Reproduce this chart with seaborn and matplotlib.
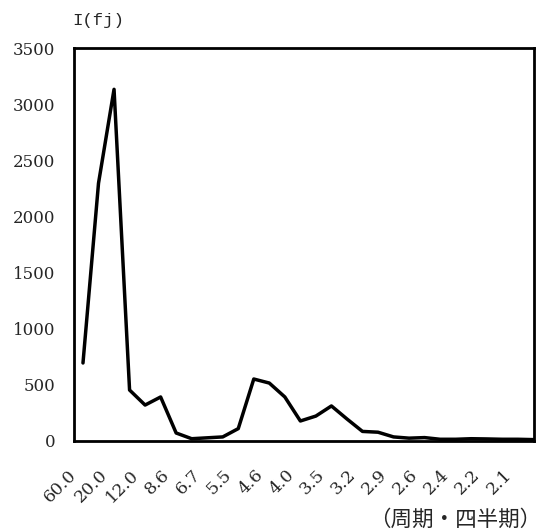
import matplotlib
matplotlib.use("Agg")
import matplotlib.pyplot as plt
import matplotlib.transforms as mtransforms
import seaborn as sns
import pandas as pd

periods = ["60.0", "30.0", "20.0", "15.0", "12.0", "10.0", "8.6", "7.5", "6.7", "6.0",
           "5.5", "5.0", "4.6", "4.3", "4.0", "3.8", "3.5", "3.3", "3.2", "3.0",
           "2.9", "2.7", "2.6", "2.5", "2.4", "2.3", "2.2", "2.1", "2.1", "2.0"]
intensity = [695, 2297, 3134, 454, 320, 392, 71, 20, 28, 36,
             110, 552, 516, 392, 178, 222, 312, 196, 85, 78,
             36, 25, 30, 15, 15, 20, 18, 15, 15, 12]
yticks = [0, 500, 1000, 1500, 2000, 2500, 3000, 3500]

sns.set_style("white")
plt.rcParams['font.family'] = ['DejaVu Serif', 'Noto Sans CJK JP']

df = pd.DataFrame({"pos": list(range(len(periods))), "I": intensity})

fig = plt.figure(figsize=(5.4, 5.3), dpi=100)
ax = fig.add_axes([0.137, 0.168, 0.852, 0.741])
sns.lineplot(data=df, x="pos", y="I", ax=ax, color="black", linewidth=2.5)

ax.set_xlim(-0.58, 29.05)
ax.set_ylim(0, 3500)
ax.set_yticks(yticks)
ax.set_yticklabels([str(v) for v in yticks], fontsize=12)
ax.tick_params(axis='y', length=0, pad=13.5)
ax.tick_params(axis='x', length=0, pad=18.5)

xt = list(range(0, len(periods), 2))
ax.set_xticks(xt)
labs = ax.set_xticklabels([periods[i] for i in xt], fontsize=12.5, rotation=45,
                          ha='right', va='top', rotation_mode='anchor')
off = mtransforms.ScaledTranslation(-15 / 100, 0, fig.dpi_scale_trans)
for t in labs:
    t.set_transform(t.get_transform() + off)

ax.set_xlabel("")
ax.set_ylabel("")
for s in ax.spines.values():
    s.set_linewidth(2.0)
    s.set_color("black")

fig.text(72 / 540, 1 - 21 / 530, "I(fj)", fontsize=12.5, ha='left', va='center',
         family=['Liberation Mono', 'Noto Sans CJK JP'])
fig.text(541 / 540, 1 - 520 / 530, "（周期・四半期）", fontsize=15.5, ha='right', va='center',
         family=['Noto Sans CJK JP', 'DejaVu Sans'])

fig.savefig("out.png", dpi=100)
